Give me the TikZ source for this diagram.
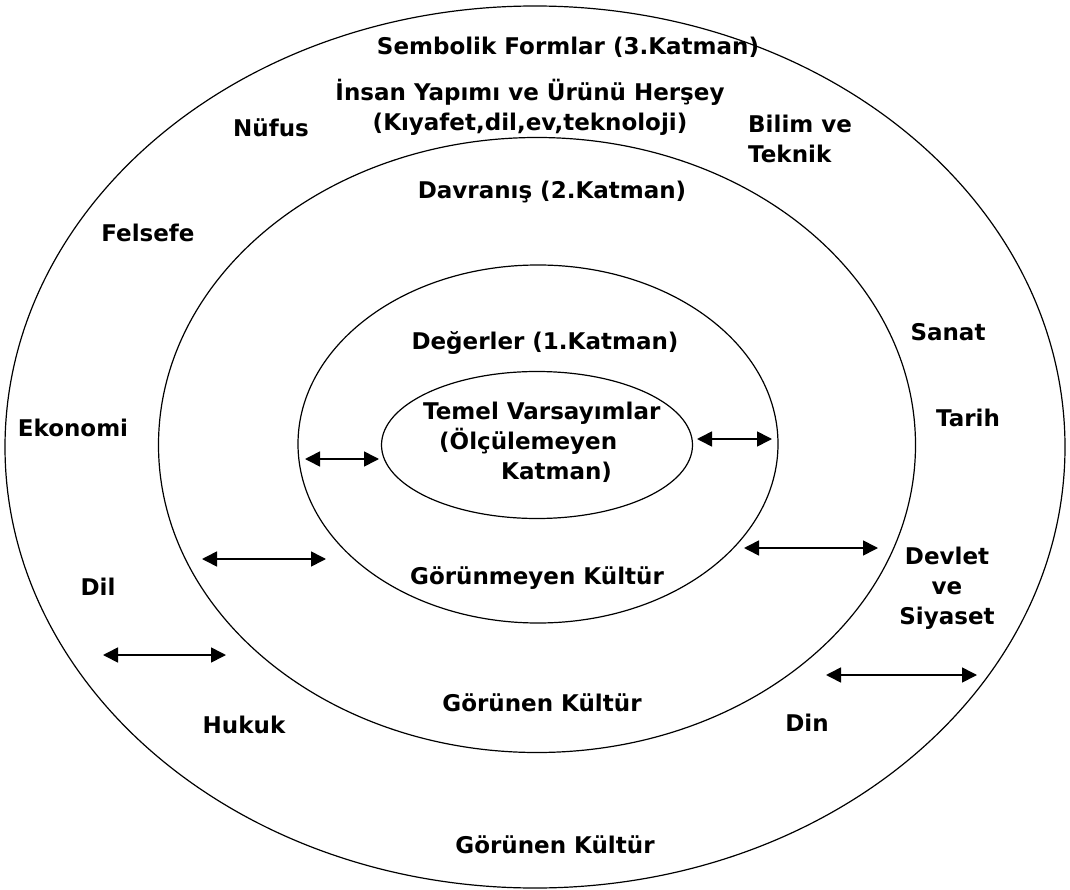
\documentclass[tikz,border=0pt]{standalone}
\usepackage{fontspec}
\setmainfont{DejaVu Sans}
\usetikzlibrary{shapes.geometric,arrows.meta}
\begin{document}
\begin{tikzpicture}[x=1pt,y=-1pt,
  ring/.style={draw, ellipse, inner sep=0pt, line width=1.2pt},
  lbl/.style={font=\fontsize{23}{30}\selectfont\bfseries, inner sep=0pt, align=center},
  dbl/.style={{Triangle[length=15pt,width=15pt]}-{Triangle[length=15pt,width=15pt]}, line width=1.6pt}]
\useasboundingbox (0,0) rectangle (1070,890);
% rings
\node[ring, minimum width=1060pt, minimum height=882pt] (L3) at (535,447) {};
\node[ring, minimum width=757pt, minimum height=615pt] (L2) at (537,445) {};
\node[ring, minimum width=480pt, minimum height=358pt] (L1) at (538,444) {};
\node[ring, minimum width=311pt, minimum height=147pt] (L0) at (537,445) {};
% labels
\node[lbl] (t3) at (568,47) {Sembolik Formlar (3.Katman)};
\node[lbl] (insan) at (530,107) {İnsan Yapımı ve Ürünü Herşey\\(Kıyafet,dil,ev,teknoloji)};
\node[lbl] (nufus) at (271,128) {Nüfus};
\node[lbl, align=left, anchor=west] (bilim) at (748,139) {Bilim ve\\Teknik};
\node[lbl] (t2) at (552,192) {Davranış (2.Katman)};
\node[lbl] (felsefe) at (148,233) {Felsefe};
\node[lbl] (sanat) at (948,332) {Sanat};
\node[lbl] (t1) at (545,343) {Değerler (1.Katman)};
\node[lbl] (tarih) at (968,418) {Tarih};
\node[lbl] (ekonomi) at (73,428) {Ekonomi};
\node[lbl, align=left, anchor=west] (temel) at (423,442) {Temel Varsayımlar\\\hspace*{16pt}(Ölçülemeyen\\\hspace*{78pt}Katman)};
\node[lbl] (gorunmeyen) at (537,578) {Görünmeyen Kültür};
\node[lbl] (devlet) at (947,588) {Devlet\\ve\\Siyaset};
\node[lbl] (dil) at (98,587) {Dil};
\node[lbl] (gorunen2) at (542,703) {Görünen Kültür};
\node[lbl] (hukuk) at (244,725) {Hukuk};
\node[lbl] (din) at (807,723) {Din};
\node[lbl] (gorunen3) at (555,845) {Görünen Kültür};
% arrows
\coordinate (a1l) at (305,459); \coordinate (a1r) at (379,459);
\coordinate (a2l) at (697,439); \coordinate (a2r) at (772,439);
\coordinate (a3l) at (202,559); \coordinate (a3r) at (326,559);
\coordinate (a4l) at (744,548); \coordinate (a4r) at (878,548);
\coordinate (a5l) at (103,655); \coordinate (a5r) at (226,655);
\coordinate (a6l) at (826,675); \coordinate (a6r) at (977,675);
\draw[dbl] (a1l) -- (a1r);
\draw[dbl] (a2l) -- (a2r);
\draw[dbl] (a3l) -- (a3r);
\draw[dbl] (a4l) -- (a4r);
\draw[dbl] (a5l) -- (a5r);
\draw[dbl] (a6l) -- (a6r);
\end{tikzpicture}
\end{document}
